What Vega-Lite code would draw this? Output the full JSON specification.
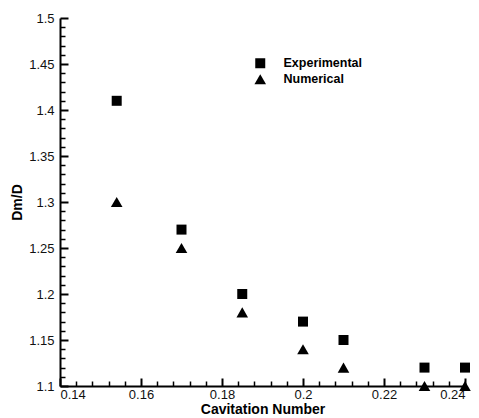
{
  "$schema": "https://vega.github.io/schema/vega-lite/v6.json",
  "width": 405,
  "height": 368,
  "autosize": {"type": "none"},
  "padding": {"left": 60, "top": 18, "right": 14, "bottom": 32},
  "config": {
    "view": {"stroke": null},
    "font": "Liberation Sans",
    "axis": {
      "domainColor": "black",
      "domainWidth": 2,
      "tickColor": "black",
      "tickWidth": 2,
      "grid": false,
      "labelFont": "Liberation Sans",
      "labelFontSize": 13,
      "labelColor": "#111111",
      "titleFont": "Liberation Sans",
      "titleFontSize": 14,
      "titleFontWeight": "bold",
      "titleColor": "black"
    }
  },
  "data": {
    "values": [
      {"sigma": 0.154, "ratio": 1.41, "series": "Experimental"},
      {"sigma": 0.17, "ratio": 1.27, "series": "Experimental"},
      {"sigma": 0.185, "ratio": 1.2, "series": "Experimental"},
      {"sigma": 0.2, "ratio": 1.17, "series": "Experimental"},
      {"sigma": 0.21, "ratio": 1.15, "series": "Experimental"},
      {"sigma": 0.23, "ratio": 1.12, "series": "Experimental"},
      {"sigma": 0.24, "ratio": 1.12, "series": "Experimental"},
      {"sigma": 0.154, "ratio": 1.3, "series": "Numerical"},
      {"sigma": 0.17, "ratio": 1.25, "series": "Numerical"},
      {"sigma": 0.185, "ratio": 1.18, "series": "Numerical"},
      {"sigma": 0.2, "ratio": 1.14, "series": "Numerical"},
      {"sigma": 0.21, "ratio": 1.12, "series": "Numerical"},
      {"sigma": 0.23, "ratio": 1.1, "series": "Numerical"},
      {"sigma": 0.24, "ratio": 1.1, "series": "Numerical"}
    ]
  },
  "layer": [
    {
      "mark": {"type": "point", "filled": true, "opacity": 1, "color": "black", "clip": false},
      "encoding": {
        "x": {
          "field": "sigma", "type": "quantitative",
          "scale": {"domain": [0.14, 0.24], "nice": false, "zero": false},
          "axis": {
            "orient": "bottom",
            "values": [0.14, 0.16, 0.18, 0.2, 0.22, 0.24],
            "format": "~g",
            "tickSize": -8,
            "labelPadding": 10,
            "titlePadding": 1,
            "title": "Cavitation Number"
          }
        },
        "y": {
          "field": "ratio", "type": "quantitative",
          "scale": {"domain": [1.1, 1.5], "nice": false, "zero": false},
          "axis": {
            "orient": "left",
            "values": [1.1, 1.15, 1.2, 1.25, 1.3, 1.35, 1.4, 1.45, 1.5],
            "format": "~g",
            "tickSize": -8,
            "labelPadding": 14,
            "titlePadding": 4,
            "title": "Dm/D"
          }
        },
        "shape": {
          "field": "series", "type": "nominal",
          "scale": {"domain": ["Experimental", "Numerical"], "range": ["square", "triangle-up"]},
          "legend": {
            "title": null,
            "orient": "none",
            "legendX": 194,
            "legendY": 39,
            "padding": 0,
            "rowPadding": 3,
            "symbolFillColor": "black",
            "symbolStrokeWidth": 0,
            "labelFont": "Liberation Sans",
            "labelFontSize": 12.5,
            "labelFontWeight": "bold",
            "labelColor": "black",
            "labelOffset": 17,
            "labelExpr": "datum.label == 'Numerical' ? '\u00a0Numerical' : datum.label"
          }
        },
        "size": {
          "field": "series", "type": "nominal",
          "scale": {"domain": ["Experimental", "Numerical"], "range": [100, 135]},
          "legend": {
            "title": null,
            "orient": "none",
            "legendX": 194,
            "legendY": 39,
            "padding": 0,
            "rowPadding": 3,
            "symbolFillColor": "black",
            "symbolStrokeWidth": 0,
            "labelFont": "Liberation Sans",
            "labelFontSize": 12.5,
            "labelFontWeight": "bold",
            "labelColor": "black",
            "labelOffset": 17,
            "labelExpr": "datum.label == 'Numerical' ? '\u00a0Numerical' : datum.label"
          }
        }
      }
    },
    {
      "mark": {"type": "point", "opacity": 0},
      "encoding": {
        "x": {
          "field": "sigma", "type": "quantitative",
          "axis": {
            "orient": "bottom",
            "values": [0.144, 0.148, 0.152, 0.156, 0.164, 0.168, 0.172, 0.176, 0.184, 0.188, 0.192, 0.196, 0.204, 0.208, 0.212, 0.216, 0.224, 0.228, 0.232, 0.236],
            "labels": false,
            "domain": false,
            "tickSize": -5,
            "tickWidth": 1.5,
            "title": null
          }
        },
        "y": {
          "field": "ratio", "type": "quantitative",
          "axis": {
            "orient": "left",
            "values": [1.11, 1.12, 1.13, 1.14, 1.16, 1.17, 1.18, 1.19, 1.21, 1.22, 1.23, 1.24, 1.26, 1.27, 1.28, 1.29, 1.31, 1.32, 1.33, 1.34, 1.36, 1.37, 1.38, 1.39, 1.41, 1.42, 1.43, 1.44, 1.46, 1.47, 1.48, 1.49],
            "labels": false,
            "domain": false,
            "tickSize": -5,
            "tickWidth": 1.5,
            "title": null
          }
        }
      }
    }
  ],
  "resolve": {"axis": {"x": "independent", "y": "independent"}}
}
